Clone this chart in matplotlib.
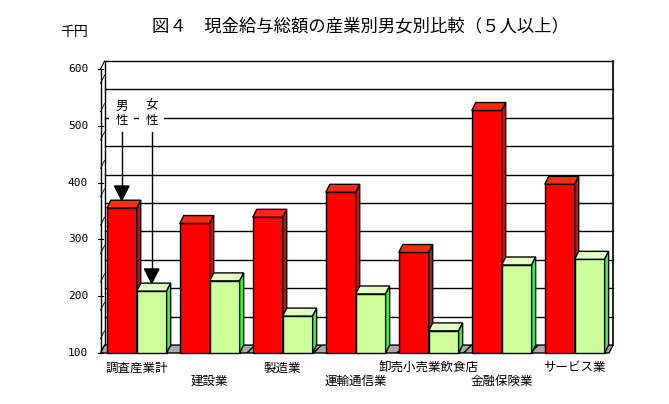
import matplotlib
matplotlib.use("Agg")
import matplotlib.pyplot as plt
from matplotlib.patches import Polygon, Rectangle

plt.rcParams['font.family'] = ['Noto Sans CJK JP', 'DejaVu Sans']
plt.rcParams['hatch.linewidth'] = 1.0

# data (千円)
categories = ['調査産業計', '建設業', '製造業', '運輸通信業', '卸売小売業飲食店', '金融保険業', 'サービス業']
male = [355, 328, 339, 383, 277, 527, 397]
female = [209, 227, 165, 204, 139, 255, 265]
yticks = [100, 200, 300, 400, 500, 600]
title = '図４　現金給与総額の産業別男女別比較（５人以上）'

# pseudo 3D geometry
DX, DY = 0.055, 14.0          # depth offset (groups, value units)
W = 0.41                       # bar width
Y0, YTOP = 100, 600
XL, XR = -0.496, 6.47          # front plane left / right

fig = plt.figure(figsize=(6.69, 4.04), dpi=100)
ax = fig.add_axes([0, 0, 1, 1])
ax.set_xlim(-1.873, 7.292)
ax.set_ylim(10.2, 721.5)
ax.axis('off')

# back wall + gridlines
for v in range(150, 601, 50):
    ax.plot([XL + DX, XR + DX], [v + DY, v + DY], color='black', lw=1, zorder=1)
    ax.plot([XL, XL + DX], [v - 50 + 25, v + DY - 50 + 25], color='black', lw=0.6, zorder=1)
ax.plot([XL + DX, XL + DX], [Y0 + DY, YTOP + DY], color='black', lw=1, zorder=1)
ax.plot([XR + DX, XR + DX], [Y0 + DY, YTOP + DY], color='black', lw=1.2, zorder=1)
# left wall
ax.plot([XL, XL], [Y0, YTOP], color='black', lw=1, zorder=1)
ax.plot([XL, XL + DX], [YTOP, YTOP + DY], color='black', lw=0.8, zorder=1)
for t in yticks:
    ax.plot([XL - 0.03, XL + 0.04], [t, t], color='black', lw=0.8, zorder=1)
    ax.text(-0.667, t, str(t), ha='right', va='center', fontsize=8,
            family='DejaVu Sans Mono')

# floor
floor = Polygon([(XL, Y0), (XR, Y0), (XR + DX, Y0 + DY), (XL + DX, Y0 + DY)],
                closed=True, facecolor='#a8a8a8', edgecolor='black', hatch='//',
                lw=1, zorder=2)
ax.add_patch(floor)


def bar3d(x0, v, front, top, side):
    x1 = x0 + W
    ax.add_patch(Rectangle((x0, Y0), W, v - Y0, facecolor=front,
                           edgecolor='black', lw=1, zorder=3))
    ax.add_patch(Polygon([(x0, v), (x1, v), (x1 + DX, v + DY), (x0 + DX, v + DY)],
                         facecolor=top, edgecolor='black', lw=1, zorder=3))
    ax.add_patch(Polygon([(x1, Y0), (x1, v), (x1 + DX, v + DY), (x1 + DX, Y0 + DY)],
                         facecolor=side, edgecolor='black', lw=1, zorder=3))


for i, (m, f) in enumerate(zip(male, female)):
    bar3d(i - W, m, '#ff0000', '#ff2a14', '#c41010')
    bar3d(i, f, '#ccff99', '#e2ffc4', '#33ff33')
    ax.text(i, 73.6 if i % 2 == 0 else 50.7, categories[i], ha='center',
            va='center', fontsize=9)

# legend labels with arrows
for xc, lab, v in [(-W / 2, '男\n性', male[0]), (W / 2, '女\n性', female[0])]:
    ax.text(xc, 522, lab, ha='center', va='center', fontsize=9, linespacing=1.15,
            bbox=dict(facecolor='white', edgecolor='none', pad=4.5), zorder=5)
    tip = v + DY
    ax.plot([xc, xc], [489, tip + 20], color='black', lw=1, zorder=6)
    ax.add_patch(Polygon([(xc - 0.1, tip + 25), (xc + 0.1, tip + 25), (xc, tip)],
                         facecolor='black', edgecolor='black', zorder=4))

ax.text(3.07, 675.7, title, ha='center', va='center', fontsize=12.5)
ax.text(-0.86, 666, '千円', ha='center', va='center', fontsize=10)

fig.savefig('out.png', dpi=100)
